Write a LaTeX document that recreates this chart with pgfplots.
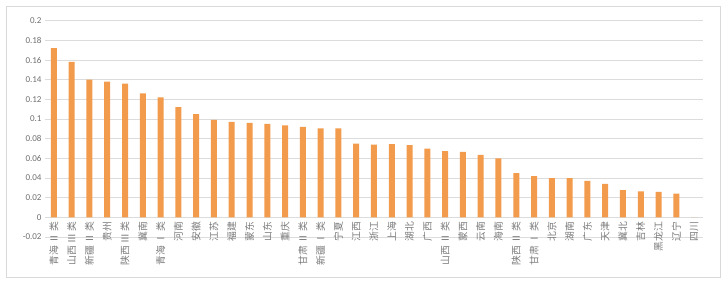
\documentclass[border=0pt]{standalone}
\usepackage{pgfplots}
\pgfplotsset{compat=1.18}
\usepackage{fontspec}
\setmainfont{Carlito}
\newfontfamily\cjk{Noto Sans CJK SC}
\definecolor{barorange}{HTML}{F29B4C}
\definecolor{gridgray}{HTML}{DCDCDC}
\definecolor{labgray}{HTML}{6E6E6E}
\definecolor{catgray}{HTML}{7A7A7A}
\begin{document}
\begin{tikzpicture}[x=1pt,y=1pt]
\path[use as bounding box] (0,0) rectangle (724,283);
\draw[color=gray!30, line width=0.8pt] (6,6) rectangle (720,277);
\begin{axis}[
  at={(45pt,46pt)}, anchor=south west,
  scale only axis, width=658pt, height=216.3pt,
  ybar, bar width=6pt,
  xmin=-0.5, xmax=36.5,
  ymin=-0.02, ymax=0.2,
  ytick={-0.02,0,0.02,0.04,0.06,0.08,0.1,0.12,0.14,0.16,0.18,0.2},
  yticklabels={-0.02,0,0.02,0.04,0.06,0.08,0.1,0.12,0.14,0.16,0.18,0.2},
  xtick={0,...,36},
  xticklabels={青海 Ⅱ 类,山西 Ⅲ 类,新疆 Ⅱ 类,贵州,陕西 Ⅲ 类,冀南,青海 Ⅰ 类,河南,安徽,江苏,福建,蒙东,山东,重庆,甘肃 Ⅱ 类,新疆 Ⅰ 类,宁夏,江西,浙江,上海,湖北,广西,山西 Ⅱ 类,蒙西,云南,海南,陕西 Ⅱ 类,甘肃 Ⅰ 类,北京,湖南,广东,天津,冀北,吉林,黑龙江,辽宁,四川},
  xticklabel style={rotate=90, anchor=east, font=\cjk\fontsize{9.8}{10}\selectfont, text=catgray, inner sep=1pt},
  xticklabel shift=-16pt,
  yticklabel style={font=\fontsize{9}{10}\selectfont, text=labgray},
  ymajorgrids, grid style={gridgray, line width=0.7pt},
  axis line style={draw=none},
  major tick length=0pt,
  clip=false,
]
\addplot[fill=barorange, draw=none] coordinates {
(0,0.172) (1,0.158) (2,0.140) (3,0.138) (4,0.136) (5,0.126) (6,0.122) (7,0.112) (8,0.105) (9,0.099)
(10,0.097) (11,0.096) (12,0.095) (13,0.0935) (14,0.092) (15,0.0905) (16,0.0905) (17,0.075) (18,0.074) (19,0.0745)
(20,0.0735) (21,0.070) (22,0.0673) (23,0.0667) (24,0.0636) (25,0.060) (26,0.045) (27,0.042) (28,0.040) (29,0.040)
(30,0.037) (31,0.034) (32,0.0276) (33,0.0265) (34,0.026) (35,0.024) (36,0)
};
\end{axis}
\end{tikzpicture}
\end{document}
